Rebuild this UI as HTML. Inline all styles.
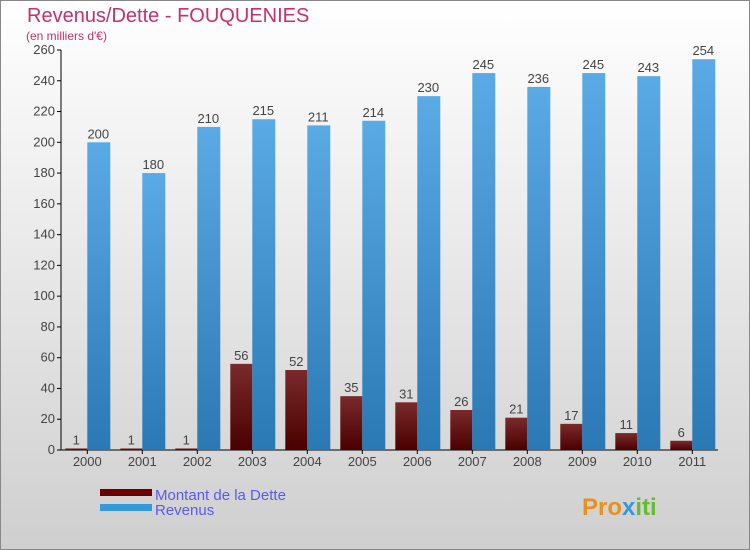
<!DOCTYPE html>
<html><head><meta charset="utf-8"><style>
body{margin:0}
svg{display:block;font-family:"Liberation Sans","DejaVu Sans",sans-serif}
</style></head><body>
<svg id="c" width="750" height="550" xmlns="http://www.w3.org/2000/svg">
<defs>
<linearGradient id="bg" x1="0" y1="0" x2="0" y2="1"><stop offset="0" stop-color="#ffffff"/><stop offset="1" stop-color="#cfcfcf"/></linearGradient>
<linearGradient id="rev" x1="0" y1="0" x2="0" y2="1"><stop offset="0" stop-color="#5aaae6"/><stop offset="1" stop-color="#2a78b4"/></linearGradient>
<linearGradient id="debt" x1="0" y1="0" x2="0" y2="1"><stop offset="0" stop-color="#7a2a2a"/><stop offset="1" stop-color="#4a0000"/></linearGradient>
</defs>
<rect x="0.5" y="0.5" width="749" height="549" fill="url(#bg)" stroke="#888"/>
<text x="27" y="22" font-size="20" fill="#c8306a">Revenus/Dette - FOUQUENIES</text>
<text x="26" y="40" font-size="12" fill="#c8306a">(en milliers d'€)</text>
<g id="plot"></g>
<g>
<rect x="100" y="489" width="52" height="7" fill="#6a0000"/>
<text x="155" y="500" font-size="15" fill="#5a5aee">Montant de la Dette</text>
<rect x="100" y="504" width="52" height="7" fill="#3399dd"/>
<text x="155" y="515" font-size="15" fill="#5a5aee">Revenus</text>
</g>
<text x="582" y="515" font-size="24" font-weight="bold" fill="#e89020">Pro<tspan fill="#3399dd">x</tspan><tspan fill="#66bb33">iti</tspan></text>
</svg>
<script>
const years=["2000","2001","2002","2003","2004","2005","2006","2007","2008","2009","2010","2011"];
const debt=[1,1,1,56,52,35,31,26,21,17,11,6];
const revenue=[200,180,210,215,211,214,230,245,236,245,243,254];
const yTicks=[0,20,40,60,80,100,120,140,160,180,200,220,240,260];
const NS="http://www.w3.org/2000/svg";
const g=document.getElementById('plot');
const y0=450,yTop=50,yMax=260;
const y=v=>y0-(v/yMax)*(y0-yTop);
const x=i=>87.3+i*55;
const bw=22;
function el(t,a,p){const e=document.createElementNS(NS,t);for(const k in a)e.setAttribute(k,a[k]);(p||g).appendChild(e);return e;}
const ax=el('line',{x1:61,y1:yTop,x2:61,y2:y0,stroke:'#000'});


const bx=el('line',{x1:61,y1:y0,x2:718,y2:y0,stroke:'#000'});


yTicks.forEach(v=>{
  const t=el('line',{x1:57,y1:y(v),x2:61,y2:y(v),stroke:'#000'});
  
  
  const l=el('text',{x:55,y:y(v)+4,'font-size':13,fill:'#444','text-anchor':'end'});
  l.textContent=v;
  
  
});
years.forEach((yr,i)=>{
  const cx=x(i);
  const t=el('line',{x1:cx,y1:y0,x2:cx,y2:y0+4,stroke:'#000'});
  
  
  const l=el('text',{x:cx,y:466,'font-size':13,fill:'#444','text-anchor':'middle'});
  l.textContent=yr;
  
  
  const d=el('rect',{x:cx-bw,y:y(debt[i]),width:bw,height:y0-y(debt[i]),fill:'url(#debt)'});
  
  
  const dl=el('text',{x:cx-bw/2,y:y(debt[i])-4,'font-size':13,fill:'#444','text-anchor':'middle'});
  dl.textContent=debt[i];
  
  
  const r=el('rect',{x:cx,y:y(revenue[i]),width:bw+1,height:y0-y(revenue[i]),fill:'url(#rev)'});
  
  
  const rl=el('text',{x:cx+bw/2,y:y(revenue[i])-4,'font-size':13,fill:'#444','text-anchor':'middle'});
  rl.textContent=revenue[i];
  
  
});
</script>
</body></html>
